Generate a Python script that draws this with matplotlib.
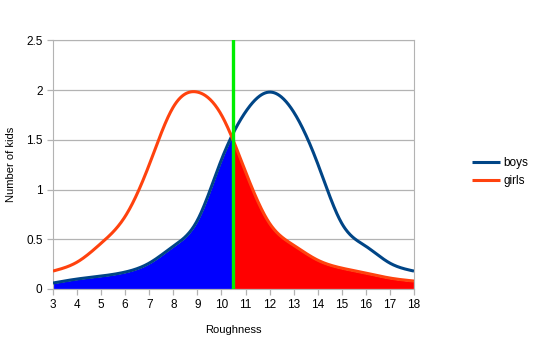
import numpy as np
import matplotlib
matplotlib.use("Agg")
from matplotlib import pyplot as plt

plt.rcParams['font.family'] = ['Liberation Sans', 'DejaVu Sans']

# roughness scores and how many kids got each one
roughness = [3, 4, 5, 6, 7, 8, 9, 10, 11, 12, 13, 14, 15, 16, 17, 18]
boys = [0.06, 0.10, 0.13, 0.17, 0.26, 0.43, 0.69, 1.30, 1.78, 1.98, 1.78, 1.26, 0.66, 0.43, 0.26, 0.18]
girls = [0.18, 0.27, 0.46, 0.73, 1.25, 1.83, 1.98, 1.75, 1.18, 0.66, 0.44, 0.29, 0.21, 0.16, 0.11, 0.08]
cutoff = 10.5

def spline(x, y, xs):
    # natural cubic spline through the points, for a smooth curve
    x = np.asarray(x, float); y = np.asarray(y, float)
    n = len(x)
    h = np.diff(x)
    A = np.zeros((n, n)); b = np.zeros(n)
    A[0, 0] = A[-1, -1] = 1
    for i in range(1, n - 1):
        A[i, i - 1] = h[i - 1]
        A[i, i] = 2 * (h[i - 1] + h[i])
        A[i, i + 1] = h[i]
        b[i] = 6 * ((y[i + 1] - y[i]) / h[i] - (y[i] - y[i - 1]) / h[i - 1])
    M = np.linalg.solve(A, b)
    k = np.clip(np.searchsorted(x, xs) - 1, 0, n - 2)
    t1 = x[k + 1] - xs; t0 = xs - x[k]
    return (M[k] * t1**3 + M[k + 1] * t0**3) / (6 * h[k]) \
        + (y[k] / h[k] - M[k] * h[k] / 6) * t1 + (y[k + 1] / h[k] - M[k + 1] * h[k] / 6) * t0

xs = np.linspace(roughness[0], roughness[-1], 600)
bs = spline(roughness, boys, xs)
gs = spline(roughness, girls, xs)

fig = plt.figure(figsize=(5.45, 3.42), dpi=100)
ax = fig.add_axes([0.0972, 0.155, 0.6624, 0.727])

left = xs <= cutoff
right = xs >= cutoff
ax.fill_between(xs[left], 0, bs[left], color='#0000ff', edgecolor='white', linewidth=0.8, zorder=2)
ax.fill_between(xs[right], 0, gs[right], color='#ff0000', edgecolor='white', linewidth=0.8, zorder=2)

ax.plot(xs, bs, color='#004586', lw=2.2, label='boys', zorder=3, solid_capstyle='butt')
ax.plot(xs, gs, color='#ff420e', lw=2.2, label='girls', zorder=3, solid_capstyle='butt')
ax.axvline(cutoff, color='#00ee00', lw=2.4, zorder=4)

ax.set_xlim(3, 18)
ax.set_ylim(0, 2.5)
ax.set_xticks(roughness)
ax.set_yticks([0, 0.5, 1, 1.5, 2, 2.5])
ax.set_yticklabels(['0', '0.5', '1', '1.5', '2', '2.5'])
ax.grid(axis='y', color='#b3b3b3', lw=0.9, zorder=0)
ax.set_axisbelow(True)
for s in ax.spines.values():
    s.set_color('#b3b3b3')
ax.tick_params(colors='#b3b3b3', labelcolor='black', labelsize=8.5, length=4, width=0.9)
ax.set_xlabel('Roughness', fontsize=8, labelpad=10)
ax.set_ylabel('Number of kids', fontsize=8, labelpad=7)

ax.legend(loc='center left', bbox_to_anchor=(1.13, 0.47), frameon=False, fontsize=8.5,
          handlelength=2.4, handletextpad=0.3, labelspacing=0.5)

fig.savefig('out.png', dpi=100)
